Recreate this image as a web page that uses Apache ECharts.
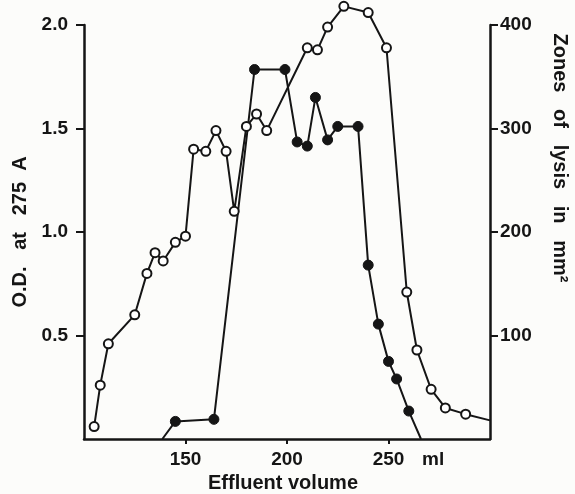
<!DOCTYPE html>
<html>
<head>
<meta charset="utf-8">
<script src="https://cdn.jsdelivr.net/npm/echarts@6/dist/echarts.min.js"></script>
<style>
html,body{margin:0;padding:0;background:#fcfcfa;}
#c{width:575px;height:494px;}
</style>
</head>
<body>
<div id="c"></div>
<script>
// Open circles: O.D. at 275 A (left axis)
const odVolume = [105, 108, 112, 125, 131, 135, 139, 145, 150, 154, 160, 165, 170, 174, 180, 185, 190, 210, 215, 220, 228, 240, 249, 259, 264, 271, 278, 288, 300];
const odValues = [0.06, 0.26, 0.46, 0.60, 0.80, 0.90, 0.86, 0.95, 0.98, 1.40, 1.39, 1.49, 1.39, 1.10, 1.51, 1.57, 1.49, 1.89, 1.88, 1.99, 2.09, 2.06, 1.89, 0.71, 0.43, 0.24, 0.15, 0.12, 0.09];
// Filled circles: zones of lysis in mm2 (right axis); first and last entries are line ends without marker
const lysisVolume = [138.6, 145, 164, 184, 199, 205, 210, 214, 220, 225, 235, 240, 245, 250, 254, 260, 266];
const lysisValues = [0, 17, 19, 357, 357, 287, 283, 330, 289, 302, 302, 168, 111, 75, 58, 27, 0];
const lysisMarked = [false, true, true, true, true, true, true, true, true, true, true, true, true, true, true, true, false];
// Axis ticks
const xTicks = [150, 200, 250];
const xUnitPos = 272;
const odTicks = [0.5, 1.0, 1.5, 2.0];
const lysisTicks = [100, 200, 300, 400];

const ink = '#151515';
const font = 'Liberation Sans, Arial, sans-serif';

const chart = echarts.init(document.getElementById('c'));
chart.setOption({
  backgroundColor: '#fcfcfa',
  animation: false,
  grid: {left: 84, right: 85, top: 25, bottom: 55, containLabel: false, outerBoundsMode: 'none'},
  xAxis: {
    type: 'value', min: 100, max: 300,
    name: 'Effluent volume', nameLocation: 'middle', nameGap: 34,
    nameTextStyle: {color: ink, fontFamily: font, fontWeight: 'bold', fontSize: 20, padding: [0, 8, 0, 0]},
    axisLine: {show: true, lineStyle: {color: ink, width: 2.5}},
    axisTick: {show: true, length: 5, customValues: xTicks, lineStyle: {color: ink, width: 2}},
    axisLabel: {customValues: xTicks.concat([xUnitPos]), margin: 11, color: ink, fontFamily: font, fontWeight: 'bold', fontSize: 19,
      formatter: v => v === xUnitPos ? 'ml' : String(v)},
    splitLine: {show: false}
  },
  yAxis: [{
    type: 'value', min: 0, max: 2.0, position: 'left',
    name: 'O.D.   at   275  A', nameLocation: 'middle', nameGap: 49, nameRotate: 90,
    nameTextStyle: {color: ink, fontFamily: font, fontWeight: 'bold', fontSize: 20},
    axisLine: {show: true, lineStyle: {color: ink, width: 2.5}},
    axisTick: {show: true, length: 8, customValues: odTicks, lineStyle: {color: ink, width: 2}},
    axisLabel: {customValues: odTicks, margin: 16, color: ink, fontFamily: font, fontWeight: 'bold', fontSize: 19,
      formatter: v => v.toFixed(1)},
    splitLine: {show: false}
  }, {
    type: 'value', min: 0, max: 400, position: 'right',
    name: 'Zones   of   lysis   in   mm²', nameLocation: 'middle', nameGap: 60, nameRotate: -90,
    nameTextStyle: {color: ink, fontFamily: font, fontWeight: 'bold', fontSize: 20, padding: [0, 148, 0, 0]},
    axisLine: {show: true, lineStyle: {color: ink, width: 2.5}},
    axisTick: {show: true, length: 8, customValues: lysisTicks, lineStyle: {color: ink, width: 2}},
    axisLabel: {customValues: lysisTicks, margin: 10, color: ink, fontFamily: font, fontWeight: 'bold', fontSize: 19},
    splitLine: {show: false}
  }],
  series: [{
    type: 'line', yAxisIndex: 0, clip: false,
    data: odVolume.map((x, i) => [x, odValues[i]]).map((d, i) => i === odVolume.length - 1 ? {value: d, symbol: 'none'} : d),
    symbol: 'circle', symbolSize: 9,
    lineStyle: {color: ink, width: 2},
    itemStyle: {color: '#ffffff', borderColor: ink, borderWidth: 2}
  }, {
    type: 'line', yAxisIndex: 1, clip: false,
    data: lysisVolume.map((x, i) => lysisMarked[i] ? [x, lysisValues[i]] : {value: [x, lysisValues[i]], symbol: 'none'}),
    symbol: 'circle', symbolSize: 10,
    lineStyle: {color: ink, width: 2},
    itemStyle: {color: ink, borderColor: ink, borderWidth: 1}
  }]
});
</script>
</body>
</html>
